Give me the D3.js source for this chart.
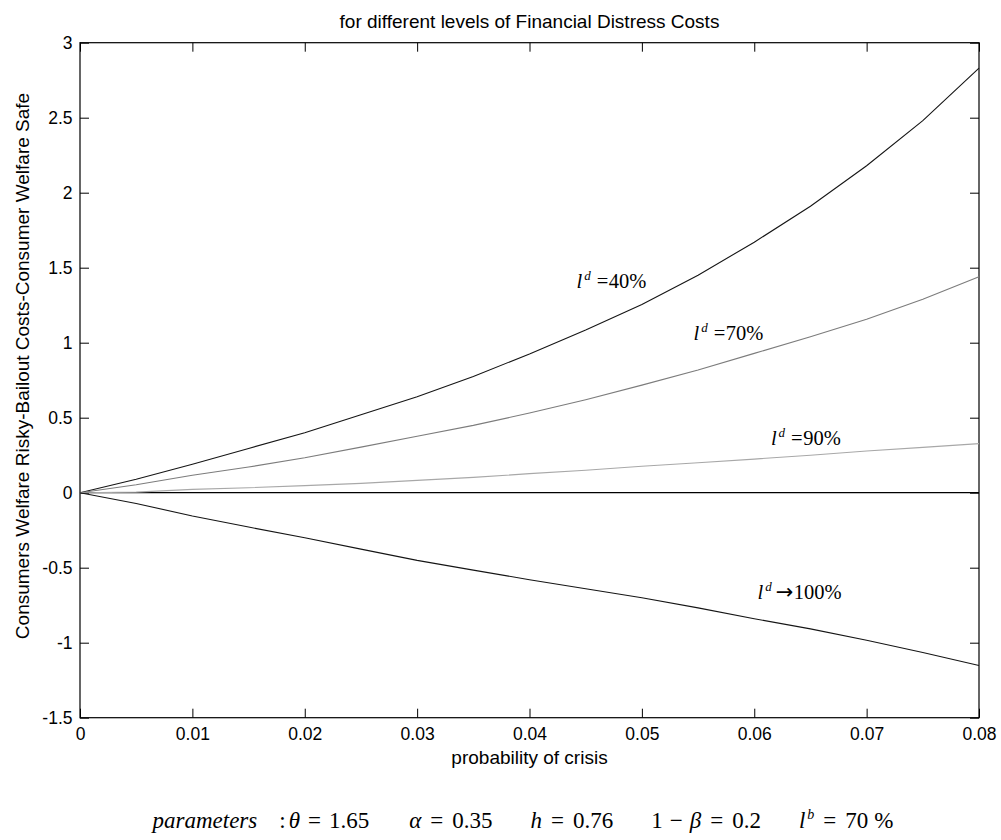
<!DOCTYPE html>
<html>
<head>
<meta charset="utf-8">
<script src="https://cdn.jsdelivr.net/npm/d3@7"></script>
<style>
  html, body { margin: 0; padding: 0; background: #fff; }
  svg { display: block; }
</style>
</head>
<body>
<div id="chart"></div>
<script>
// ---------------- data ----------------
const probability = [0, 0.005, 0.01, 0.015, 0.02, 0.025, 0.03, 0.035, 0.04,
                     0.045, 0.05, 0.055, 0.06, 0.065, 0.07, 0.075, 0.08];
const ld40  = [0, 0.09, 0.19, 0.295, 0.40, 0.52, 0.64, 0.775, 0.925,
               1.085, 1.255, 1.45, 1.67, 1.91, 2.18, 2.48, 2.83];
const ld70  = [0, 0.053, 0.116, 0.171, 0.233, 0.304, 0.376, 0.449, 0.531,
               0.62, 0.717, 0.818, 0.929, 1.04, 1.156, 1.289, 1.44];
const ld90  = [0, 0.004, 0.022, 0.033, 0.047, 0.062, 0.082, 0.102, 0.127,
               0.15, 0.176, 0.20, 0.224, 0.25, 0.278, 0.302, 0.327];
const ld100 = [0, -0.072, -0.155, -0.229, -0.30, -0.376, -0.451, -0.516, -0.58,
               -0.64, -0.70, -0.768, -0.84, -0.908, -0.984, -1.065, -1.152];
const xTicks = [0, 0.01, 0.02, 0.03, 0.04, 0.05, 0.06, 0.07, 0.08];
const xTickLabels = ["0", "0.01", "0.02", "0.03", "0.04", "0.05", "0.06", "0.07", "0.08"];
const yTicks = [3, 2.5, 2, 1.5, 1, 0.5, 0, -0.5, -1, -1.5];
const yTickLabels = ["3", "2.5", "2", "1.5", "1", "0.5", "0", "-0.5", "-1", "-1.5"];
const seriesNames = ["40%", "70%", "90%", "100%"];
const seriesOps = ["=", "=", "=", "\u2192"];

// ---------------- layout ----------------
const W = 1001, H = 840;
const margin = { left: 80, right: 22, top: 42.7, bottom: 122.3 };
const iw = W - margin.left - margin.right;
const ih = H - margin.top - margin.bottom;

const svg = d3.select("#chart").append("svg")
  .attr("width", W).attr("height", H);

const x = d3.scaleLinear().domain([0, 0.08]).range([margin.left, margin.left + iw]);
const y = d3.scaleLinear().domain([-1.5, 3]).range([margin.top + ih, margin.top]);

const sans = "'Liberation Sans', Arial, Helvetica, sans-serif";
const serif = "'Liberation Serif', 'Times New Roman', Times, serif";

// axes (inward ticks, MATLAB style)
const tickLen = 9;
const gx = svg.append("g").attr("transform", `translate(0,${margin.top + ih})`)
  .call(d3.axisBottom(x).tickValues(xTicks).tickFormat((d, i) => xTickLabels[i])
    .tickSizeInner(-tickLen).tickSizeOuter(0).tickPadding(10));
const gxt = svg.append("g").attr("transform", `translate(0,${margin.top})`)
  .call(d3.axisTop(x).tickValues(xTicks).tickFormat("")
    .tickSizeInner(-tickLen).tickSizeOuter(0));
const gy = svg.append("g").attr("transform", `translate(${margin.left},0)`)
  .call(d3.axisLeft(y).tickValues(yTicks).tickFormat((d, i) => yTickLabels[i])
    .tickSizeInner(-tickLen).tickSizeOuter(0).tickPadding(7.5));
const gyr = svg.append("g").attr("transform", `translate(${margin.left + iw},0)`)
  .call(d3.axisRight(y).tickValues(yTicks).tickFormat("")
    .tickSizeInner(-tickLen).tickSizeOuter(0));

[gx, gxt, gy, gyr].forEach(g => {
  g.select(".domain").remove();
  g.selectAll(".tick line").attr("stroke", "#000").attr("stroke-width", 1);
  g.selectAll("text").attr("font-family", sans).attr("font-size", 17.5).attr("fill", "#000");
});

// frame
svg.append("rect")
  .attr("x", margin.left).attr("y", margin.top)
  .attr("width", iw).attr("height", ih)
  .attr("fill", "none").attr("stroke", "#000").attr("stroke-width", 1.2);

// zero line
svg.append("line")
  .attr("x1", x(0)).attr("x2", x(0.08))
  .attr("y1", y(0)).attr("y2", y(0))
  .attr("stroke", "#000").attr("stroke-width", 1.2);

// series
const seriesValues = [ld40, ld70, ld90, ld100];
const seriesColors = ["#151515", "#7c7c7c", "#a8a8a8", "#151515"];
const line = d3.line().x(d => x(d[0])).y(d => y(d[1]));
seriesValues.forEach((vals, k) => {
  svg.append("path")
    .datum(probability.map((p, i) => [p, vals[i]]))
    .attr("d", line)
    .attr("fill", "none")
    .attr("stroke", seriesColors[k])
    .attr("stroke-width", 1.1);
});

// curve annotations (anchor in data coordinates)
const labelAnchors = [[0.04419, 1.365], [0.05459, 1.018], [0.06148, 0.318], [0.06029, -0.709]];
labelAnchors.forEach((a, k) => {
  const t = svg.append("text")
    .attr("x", x(a[0])).attr("y", y(a[1]))
    .attr("font-family", serif).attr("font-size", 20.5).attr("fill", "#000");
  t.append("tspan").attr("font-style", "italic").text("l");
  t.append("tspan").attr("font-style", "italic").attr("font-size", 13)
    .attr("dx", 2).attr("dy", -8).text("d");
  const op = t.append("tspan").attr("dy", 8).attr("dx", 6).text(seriesOps[k]);
  if (seriesOps[k] !== "=") op.attr("font-family", "'DejaVu Sans', 'Noto Sans', sans-serif")
    .attr("font-size", 21).attr("dx", 4);
  t.append("tspan").attr("dx", 0.5).text(seriesNames[k]);
});

// title
svg.append("text")
  .attr("x", margin.left + iw / 2).attr("y", 28.3)
  .attr("text-anchor", "middle")
  .attr("font-family", sans).attr("font-size", 19).attr("fill", "#000")
  .text("for different levels of Financial Distress Costs");

// x label
svg.append("text")
  .attr("x", margin.left + iw / 2).attr("y", 764)
  .attr("text-anchor", "middle")
  .attr("font-family", sans).attr("font-size", 19).attr("fill", "#000")
  .text("probability of crisis");

// y label
svg.append("text")
  .attr("transform", `translate(29,366) rotate(-90)`)
  .attr("text-anchor", "middle")
  .attr("font-family", sans).attr("font-size", 19).attr("fill", "#000")
  .text("Consumers Welfare Risky-Bailout Costs-Consumer Welfare Safe");

// parameters line
const pt = svg.append("text")
  .attr("x", 0).attr("y", 828)
  .attr("font-family", serif).attr("font-size", 23).attr("fill", "#000");
const parts = [
  { t: "parameters", it: true },
  { t: ":", dx: 22 },
  { t: "\u03b8", it: true, dx: 3 },
  { t: "=", dx: 8 },
  { t: "1.65", dx: 8 },
  { t: "\u03b1", it: true, dx: 40 },
  { t: "=", dx: 9 },
  { t: "0.35", dx: 9 },
  { t: "h", it: true, dx: 38 },
  { t: "=", dx: 9 },
  { t: "0.76", dx: 9 },
  { t: "1", dx: 38 },
  { t: "\u2212", dx: 7 },
  { t: "\u03b2", it: true, dx: 7 },
  { t: "=", dx: 9 },
  { t: "0.2", dx: 9 },
  { t: "l", it: true, dx: 38 },
  { t: "b", it: true, small: true, dx: 2, dy: -9 },
  { t: "=", dx: 9, dy: 9 },
  { t: "70", dx: 9 },
  { t: "%", dx: 6 }
];
parts.forEach(p => {
  const s = pt.append("tspan").text(p.t);
  if (p.it) s.attr("font-style", "italic");
  if (p.small) s.attr("font-size", 14);
  if (p.dx) s.attr("dx", p.dx);
  if (p.dy) s.attr("dy", p.dy);
});
const bb = pt.node().getBBox();
pt.attr("x", 524 - bb.width / 2);
</script>
</body>
</html>
